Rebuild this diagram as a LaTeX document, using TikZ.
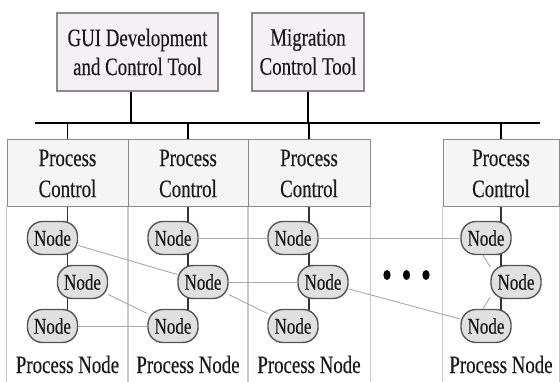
\documentclass[tikz,border=0pt]{standalone}
\usepackage{fontspec}
\setmainfont{Liberation Serif}[FakeStretch=0.755,FakeBold=0.35]
\usetikzlibrary{backgrounds}
\definecolor{toolfill}{HTML}{F5F0F5}
\definecolor{pcfill}{HTML}{F5F5F5}
\definecolor{boxgray}{HTML}{8A8A8A}
\definecolor{colgray}{HTML}{C8C8C8}
\definecolor{nodefill}{HTML}{E0E0E0}
\definecolor{nodeborder}{HTML}{555555}
\definecolor{linkgray}{HTML}{A8A8A8}
\definecolor{inkcol}{HTML}{1A1A1A}
\begin{document}
\begin{tikzpicture}[x=1pt,y=-1pt,
  toolbox/.style={draw=boxgray, line width=1.2pt, fill=toolfill, inner sep=0pt, minimum height=78pt, align=center, font=\fontsize{25}{29}\selectfont, text=inkcol},
  pcbox/.style={draw=boxgray, line width=1pt, fill=pcfill, minimum height=67pt, inner sep=0pt, align=center, font=\fontsize{25}{31}\selectfont, text=inkcol},
  procnode/.style={draw=nodeborder, line width=1.4pt, fill=nodefill, rounded corners=15pt, minimum width=50pt, minimum height=33pt, inner sep=0pt, font=\fontsize{22.6}{27}\selectfont, text=inkcol},
  link/.style={draw=linkgray, line width=0.9pt},
  busline/.style={line width=2pt, draw=black},
  drop/.style={line width=1.5pt, draw=black},
  spine/.style={line width=1.8pt, draw=black!80},
  colline/.style={line width=0.8pt, draw=colgray},
  collabel/.style={font=\fontsize{25}{30}\selectfont, text=inkcol, anchor=base, inner sep=0pt},
  dot/.style={fill=black}]
\useasboundingbox (0,0) rectangle (560,382);

% top tools
\node[toolbox, minimum width=161pt] (gui) at (137.5,52) {GUI Development\\and Control Tool};
\node[toolbox, minimum width=112pt] (mig) at (308,52) {Migration\\Control Tool};

% bus
\coordinate (busL) at (35,123);
\coordinate (busR) at (540,123);
\coordinate (guiout) at ([xshift=-6.5pt]gui.south);

% process control boxes
\node[pcbox, minimum width=121pt] (pc1) at (67.5,173.5) {Process\\Control};
\node[pcbox, minimum width=120pt] (pc2) at (188,173.5) {Process\\Control};
\node[pcbox, minimum width=122pt] (pc3) at (309,173.5) {Process\\Control};
\node[pcbox, minimum width=116pt] (pc4) at (501,173.5) {Process\\Control};

% nodes
\node[procnode] (n1a) at (52.5,238) {Node};
\node[procnode] (n1b) at (82.5,282) {Node};
\node[procnode] (n1c) at (52.5,326) {Node};
\node[procnode] (n2a) at (173,238) {Node};
\node[procnode] (n2b) at (203,282) {Node};
\node[procnode] (n2c) at (173,326) {Node};
\node[procnode] (n3a) at (293,238) {Node};
\node[procnode] (n3b) at (323,282) {Node};
\node[procnode] (n3c) at (293,326) {Node};
\node[procnode] (n4a) at (486,238) {Node};
\node[procnode] (n4b) at (516,282) {Node};
\node[procnode] (n4c) at (486,326) {Node};

% labels
\node[collabel] (l1) at (67.5,373) {Process Node};
\node[collabel] (l2) at (188,373) {Process Node};
\node[collabel] (l3) at (309,373) {Process Node};
\node[collabel] (l4) at (501,373) {Process Node};

% dots
\fill[dot] (387,275) ellipse [x radius=3.6, y radius=5];
\fill[dot] (406.5,275) ellipse [x radius=3.6, y radius=5];
\fill[dot] (426,275) ellipse [x radius=3.6, y radius=5];

\begin{scope}[on background layer]
  % column outlines
  \foreach \p in {pc1,pc2,pc3,pc4}{
    \draw[colline] (\p.south west) -- ++(0,176);
    \draw[colline] (\p.south east) -- ++(0,176);
  }
  % spines
  \draw[spine] (pc1.south) -- (pc1.south |- n1c.center);
  \draw[spine] (pc2.south) -- (pc2.south |- n2c.center);
  \draw[spine] (pc3.south) -- (pc3.south |- n3c.center);
  \draw[spine] (pc4.south) -- (pc4.south |- n4c.center);
  % links
  \draw[link] (n1a) -- (n2b);
  \draw[link] (n1b) -- (n2c);
  \draw[link] (n1c) -- (n2c);
  \draw[link] (n2a) -- (n3a);
  \draw[link] (n2b) -- (n3b);
  \draw[link] (n2b) -- (n3c);
  \draw[link] (n3a) -- (n4a);
  \draw[link] (n3b) -- (n4c);
  \draw[link] (n4a.-100) -- (n4b.150);
  \draw[link] (n4c.100) -- (n4b.-150);
\end{scope}

% bus and drops
\draw[busline] (busL) -- (busR);
\draw[drop] (guiout) -- (guiout |- busL);
\draw[drop] (mig.south) -- (mig.south |- busL);
\draw[drop] (pc1.north) -- (pc1.north |- busL);
\draw[drop] (pc2.north) -- (pc2.north |- busL);
\draw[drop] (pc3.north) -- (pc3.north |- busL);
\draw[drop] (pc4.north) -- (pc4.north |- busL);
\end{tikzpicture}
\end{document}
